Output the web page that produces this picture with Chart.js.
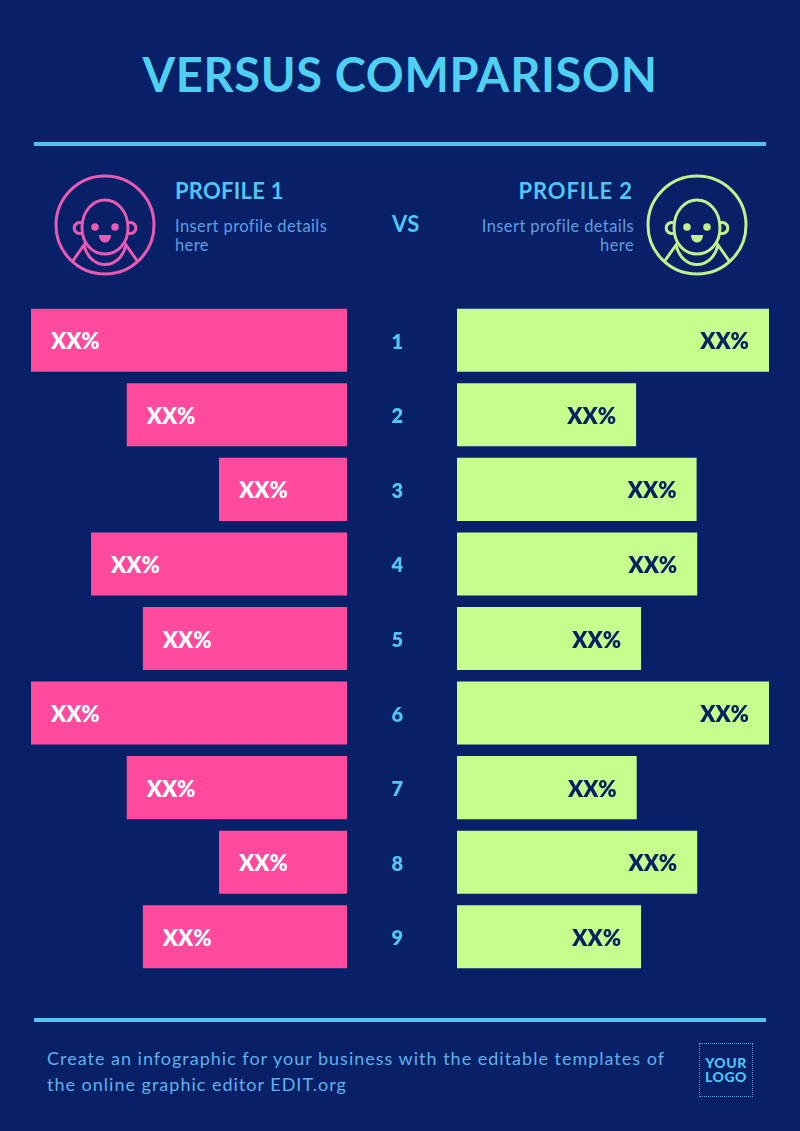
<!DOCTYPE html>
<html><head><meta charset="utf-8">
<script src="https://cdn.jsdelivr.net/npm/chart.js@4"></script>
<style>
html,body{margin:0;padding:0;background:#072068;}
#page{position:relative;width:800px;height:1131px;overflow:hidden;background:#072068;font-family:Lato,sans-serif;}
#page div{position:absolute;white-space:nowrap;line-height:1;}
canvas{position:absolute;display:block;}
.rule{left:34px;width:732px;height:4px;background:#52c5f2;}
.head{font-weight:700;font-size:22px;color:#52c5f2;letter-spacing:.25px;}
.sub{font-size:16.5px;color:#5f9fe0;letter-spacing:.4px;}
.foot{left:47px;font-size:18px;color:#62b0ea;letter-spacing:1px;}
svg{position:absolute;left:0;top:0;}
</style></head><body>
<div id="page">
  <div id="title" style="left:0;width:800px;text-align:center;top:51px;font-size:47px;font-weight:700;color:#4fd0f2;letter-spacing:.65px;">VERSUS COMPARISON</div>
  <div class="rule" style="top:142px"></div>
  <div class="head" style="left:175px;top:180px">PROFILE 1</div>
  <div class="sub" style="left:175px;top:218px">Insert profile details</div>
  <div class="sub" style="left:175px;top:237px">here</div>
  <div class="head" style="left:392px;top:213px">VS</div>
  <div class="head" style="right:167px;top:180px;letter-spacing:.9px">PROFILE 2</div>
  <div class="sub" style="right:166px;top:218px">Insert profile details</div>
  <div class="sub" style="right:166px;top:237px">here</div>
  <svg width="800" height="300" fill="none" stroke-width="3">
    <defs><g id="face">
      <circle cx="0" cy="0" r="49"/>
      <path d="M-23 3 C-23 -14 -12 -25 0 -25 C12 -25 23 -14 23 3 C23 19 12 29 0 29 C-12 29 -23 19 -23 3 Z"/>
      <path d="M-23 -2 A5.5 5.5 0 1 0 -23 8 M23 -2 A5.5 5.5 0 1 1 23 8"/>
      <path d="M-33 37 L-21 20 C-15 46 15 46 21 20 L33 37"/>
      <circle cx="-10" cy="2" r="3.8" fill="currentColor" stroke="none"/>
      <circle cx="10" cy="2" r="3.8" fill="currentColor" stroke="none"/>
      <path d="M-6 10 H6 C6 20 -6 20 -6 10 Z" fill="currentColor" stroke="none"/>
    </g></defs>
    <use href="#face" x="105" y="225" stroke="#e85ab4" color="#e85ab4"/>
    <use href="#face" x="697" y="225" stroke="#c2f08c" color="#c2f08c"/>
  </svg>
  <canvas id="left"></canvas>
  <canvas id="right"></canvas>
  <div class="rule" style="top:1018px"></div>
  <div class="foot" style="top:1049px">Create an infographic for your business with the editable templates of</div>
  <div class="foot" style="top:1075px">the online graphic editor EDIT.org</div>
  <div style="left:699px;top:1043px;width:52px;height:52px;border:1.5px dotted #5f9fe0;"></div>
  <div style="left:699px;width:54px;text-align:center;top:1056px;font-size:14px;font-weight:900;color:#52c5f2;letter-spacing:.5px;">YOUR</div>
  <div style="left:699px;width:54px;text-align:center;top:1070px;font-size:14px;font-weight:900;color:#52c5f2;letter-spacing:.5px;">LOGO</div>
</div>
<script>
const categories = ["1","2","3","4","5","6","7","8","9"];
const profile1 = [100,69.7,40.5,81,64.6,100,69.7,40.5,64.6];
const profile2 = [100,57.4,76.8,77,59,100,57.6,77,59];
const barLabels = ["XX%","XX%","XX%","XX%","XX%","XX%","XX%","XX%","XX%"];

const labelPlugin = {
  id:'barText',
  afterDatasetsDraw(chart, args, opts){
    const ctx = chart.ctx;
    const meta = chart.getDatasetMeta(0);
    ctx.save();
    ctx.font = '800 22px Lato, sans-serif';
    ctx.fillStyle = opts.color;
    ctx.textBaseline = 'middle';
    ctx.textAlign = opts.align;
    meta.data.forEach((bar,i)=>{
      ctx.fillText(barLabels[i], bar.x + opts.offset, bar.y + 2);
    });
    ctx.restore();
  }
};

function makeChart(id, box, data, color, reverse, showCats, textOpts){
  const c = document.getElementById(id);
  c.style.left = box.x+'px'; c.style.top = box.y+'px';
  c.width = box.w; c.height = box.h;
  c.style.width = box.w+'px'; c.style.height = box.h+'px';
  return new Chart(c, {
    type:'bar',
    data:{labels:categories, datasets:[{data, backgroundColor:color, borderWidth:0, barPercentage:0.95, categoryPercentage:0.89}]},
    plugins:[labelPlugin],
    options:{
      indexAxis:'y', responsive:false, animation:false,
      layout:{padding:0},
      plugins:{legend:{display:false}, tooltip:{enabled:false}, barText:textOpts},
      scales:{
        x:{display:false, min:0, max:100, reverse},
        y:{
          display:showCats, grid:{display:false, drawTicks:true, tickLength:54}, border:{display:false},
          afterFit(s){ if(showCats){ s.width = 100; s.paddingTop = 0; s.paddingBottom = 0; } },
          ticks:{color:'#52c5f2', font:{family:'Lato, sans-serif', weight:'800', size:20}, padding:0, crossAlign:'center', labelOffset:2}
        }
      }
    }
  });
}
makeChart('left',  {x:31, y:303, w:316, h:671}, profile1, '#ff4a9d', true,  false, {color:'#ffffff', align:'left',  offset:20});
makeChart('right', {x:357,y:303, w:412, h:671}, profile2, '#c6fe8e', false, true,  {color:'#07205f', align:'right', offset:-20});
</script>
</body></html>
